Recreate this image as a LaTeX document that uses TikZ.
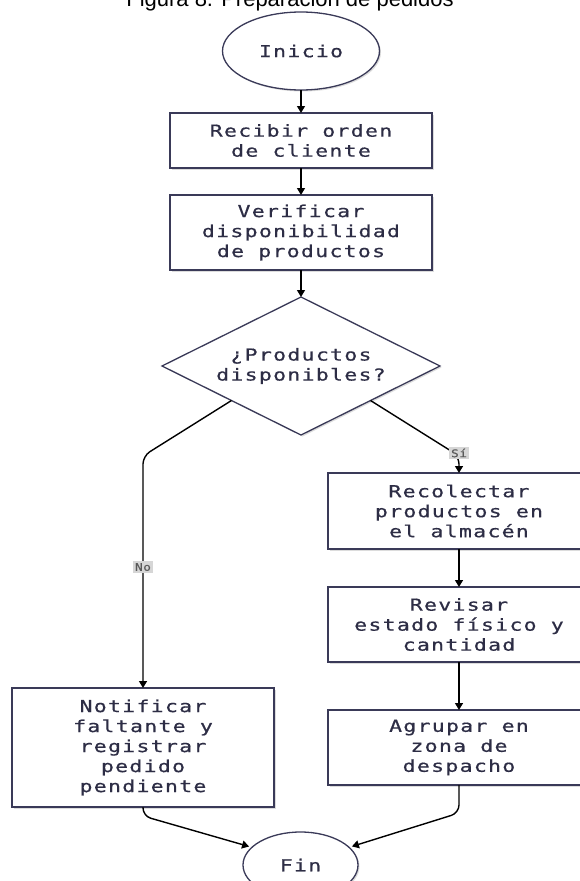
\documentclass[tikz,border=0pt]{standalone}
\usepackage{fontspec}
\setmainfont{Liberation Sans}
\newfontfamily\diagfont[FakeStretch=1.3,LetterSpace=8,FakeBold=0.6]{DejaVu Sans Mono}
\newfontfamily\tagfont[FakeStretch=1.2,LetterSpace=6,FakeBold=0.5]{DejaVu Sans Mono}
\usetikzlibrary{shapes.geometric,arrows.meta,shadows}

\definecolor{ink}{HTML}{2D2D45}
\definecolor{edge}{HTML}{3A3A58}
\definecolor{taggray}{HTML}{D6D6D6}

\begin{document}
\begin{tikzpicture}[x=1pt,y=-1pt,
  every node/.style={inner sep=0pt,outer sep=0pt},
  txt/.style={font=\diagfont\fontsize{16.5}{20}\selectfont,text=ink,align=center},
  soft/.style={drop shadow={shadow xshift=1.5pt,shadow yshift=-1.5pt,fill=black!30,opacity=0.45}},
  procbox/.style={txt,rectangle,draw=edge,line width=1.3pt,fill=white,soft,
    minimum width=262pt},
  termbox/.style={txt,ellipse,draw=edge,line width=1.3pt,fill=white,soft},
  decbox/.style={diamond,draw=edge,line width=1.3pt,fill=white,soft,
    minimum width=278pt,minimum height=138pt},
  conn/.style={draw=black,line width=1.4pt,rounded corners=8pt},
  arr/.style={conn,-{Triangle[length=7pt,width=8pt]}},
  tag/.style={font=\tagfont\fontsize{10.5}{12}\selectfont,text=black!65,fill=taggray,
    inner xsep=2pt,inner ysep=2pt}
]
\useasboundingbox (0,0) rectangle (579,881);

% title, partly above the page edge
\node[anchor=base,font=\fontsize{22}{26}\selectfont] (title) at (290,6)
  {Figura 8. Preparación de pedidos};

% steps
\node[termbox,minimum width=157pt,minimum height=78pt] (inicio) at (301,51) {Inicio};
\node[procbox,minimum height=55pt] (recibir) at (301,140.5) {Recibir orden\\de cliente};
\node[procbox,minimum height=75pt] (verificar) at (301,232.5)
  {Verificar\\disponibilidad\\de productos};
\node[decbox] (dec) at (301,366) {};
\node[txt] (dectext) at (301,366) {¿Productos\\disponibles?};
\node[procbox,minimum height=76pt] (recolectar) at (459,511)
  {Recolectar\\productos en\\el almacén};
\node[procbox,minimum height=75pt] (revisar) at (459,624.5)
  {Revisar\\estado físico y\\cantidad};
\node[procbox,minimum height=75pt] (agrupar) at (459,747.5)
  {Agrupar en\\zona de\\despacho};
\node[procbox,minimum height=119pt] (notificar) at (143,747.5)
  {Notificar\\faltante y\\registrar\\pedido\\pendiente};
\node[termbox,minimum width=115pt,minimum height=66pt] (fin) at (300.5,865) {Fin};

% bend points
\coordinate (nobend) at (143,456);
\coordinate (sibend) at (459,456);
\coordinate (lbend) at (143,816);
\coordinate (rbend) at (459,813);

% connectors
\draw[arr] (inicio) -- (recibir);
\draw[arr] (recibir) -- (verificar);
\draw[arr] (verificar) -- (dec);
\draw[arr] (dec.south west) -- (nobend) -- (notificar.north);
\draw[arr] (dec.south east) -- (sibend) -- (recolectar.north);
\draw[arr] (recolectar) -- (revisar);
\draw[arr] (revisar) -- (agrupar);
\draw[arr,shorten >=3pt] (notificar.south) -- (lbend) -- (fin.160);
\draw[arr,shorten >=3pt] (agrupar.south) -- (rbend) -- (fin.20);

% branch labels
\node[tag] (tagno) at (143,567) {No};
\node[tag] (tagsi) at (459,453) {Sí};
\end{tikzpicture}
\end{document}
